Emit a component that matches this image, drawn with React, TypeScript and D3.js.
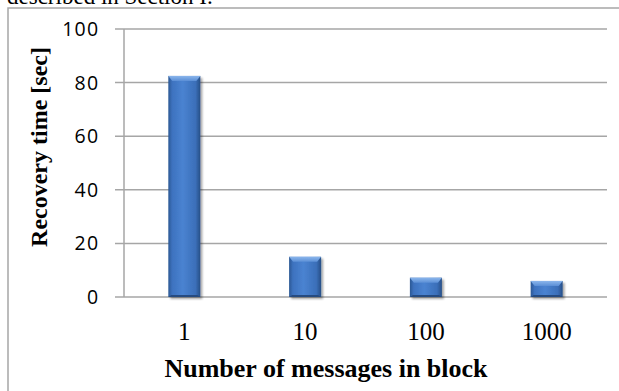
import React from "react";
import * as d3 from "d3";

// Recovery time per block size
const categories: string[] = ["1", "10", "100", "1000"];
const recoverySeconds: number[] = [82.5, 15, 7.2, 6];
const yTicks: number[] = [0, 20, 40, 60, 80, 100];

const W = 619;
const H = 391;
const plot = { left: 124, right: 607, top: 29, bottom: 297 };

const SERIF = "'Liberation Serif', 'Times New Roman', serif";
const SANS = "'Open Sans', 'DejaVu Sans', sans-serif";
const GRID = "#a6a6a6";

export default function App() {
  const x = d3
    .scaleBand<string>()
    .domain(categories)
    .range([plot.left, plot.right])
    .paddingInner(0.735)
    .paddingOuter(0.367);
  const y = d3.scaleLinear().domain([0, 100]).range([plot.bottom, plot.top]);
  const bw = x.bandwidth();

  return (
    <svg
      width={W}
      height={H}
      style={{ position: "absolute", left: 0, top: 0, background: "#fff" }}
    >
      <defs>
        <linearGradient id="barFill" x1="0" x2="1" y1="0" y2="0">
          <stop offset="0" stopColor="#2c5894" />
          <stop offset="0.12" stopColor="#3d72bf" />
          <stop offset="0.45" stopColor="#4a83d1" />
          <stop offset="0.85" stopColor="#3b6fb9" />
          <stop offset="1" stopColor="#274f86" />
        </linearGradient>
        <linearGradient id="barTop" x1="0" x2="0" y1="0" y2="1">
          <stop offset="0" stopColor="#8bb6ec" />
          <stop offset="1" stopColor="#5b8fd6" />
        </linearGradient>
        <filter id="shadow" x="-20%" y="-20%" width="150%" height="150%">
          <feGaussianBlur in="SourceAlpha" stdDeviation="1.2" />
          <feOffset dx="1.5" dy="1.5" result="b" />
          <feComponentTransfer>
            <feFuncA type="linear" slope="0.35" />
          </feComponentTransfer>
          <feMerge>
            <feMergeNode />
            <feMergeNode in="SourceGraphic" />
          </feMerge>
        </filter>
      </defs>

      {/* text running above the figure */}
      <text x={7} y={4} fontFamily={SERIF} fontSize={23} fill="#000">
        described in Section I.
      </text>

      {/* figure frame */}
      <rect
        x={8}
        y={8}
        width={W + 10}
        height={H + 10}
        fill="none"
        stroke={GRID}
        strokeWidth={1.5}
      />

      {/* horizontal gridlines with tick stubs */}
      {yTicks.map((t) => (
        <line
          key={t}
          x1={plot.left - 9}
          x2={plot.right}
          y1={y(t)}
          y2={y(t)}
          stroke={GRID}
          strokeWidth={1.5}
        />
      ))}
      <line
        x1={plot.left}
        x2={plot.left}
        y1={plot.top}
        y2={plot.bottom}
        stroke={GRID}
        strokeWidth={1.5}
      />

      {/* y tick labels */}
      {yTicks.map((t) => (
        <text
          key={t}
          x={99.5}
          y={y(t)}
          dy="0.36em"
          textAnchor="end"
          fontFamily={SANS}
          fontSize={19.5}
          letterSpacing={1.3}
          fill="#000"
        >
          {t}
        </text>
      ))}

      {/* bars */}
      {categories.map((c, i) => {
        const x0 = x(c) as number;
        const top = y(recoverySeconds[i]);
        const h = plot.bottom - top;
        const bev = Math.min(5, h / 3);
        return (
          <g key={c} filter="url(#shadow)">
            <rect x={x0} y={top} width={bw} height={h} fill="url(#barFill)" />
            <polygon
              points={`${x0},${top} ${x0 + bw},${top} ${x0 + bw - 4},${top + bev} ${x0 + 4},${top + bev}`}
              fill="url(#barTop)"
            />
            <polygon
              points={`${x0},${plot.bottom} ${x0 + bw},${plot.bottom} ${x0 + bw - 3},${plot.bottom - 2} ${x0 + 3},${plot.bottom - 2}`}
              fill="#264b80"
            />
          </g>
        );
      })}

      {/* x tick labels */}
      {categories.map((c) => (
        <text
          key={c}
          x={(x(c) as number) + bw / 2}
          y={340}
          textAnchor="middle"
          fontFamily={SERIF}
          fontSize={25}
          fill="#000"
        >
          {c}
        </text>
      ))}

      {/* axis titles */}
      <text
        x={326}
        y={377}
        textAnchor="middle"
        fontFamily={SERIF}
        fontWeight="bold"
        fontSize={26}
        fill="#000"
      >
        Number of messages in block
      </text>
      <text
        transform="translate(47,147) rotate(-90)"
        textAnchor="middle"
        fontFamily={SERIF}
        fontWeight="bold"
        fontSize={24}
        fill="#000"
      >
        Recovery time [sec]
      </text>
    </svg>
  );
}
